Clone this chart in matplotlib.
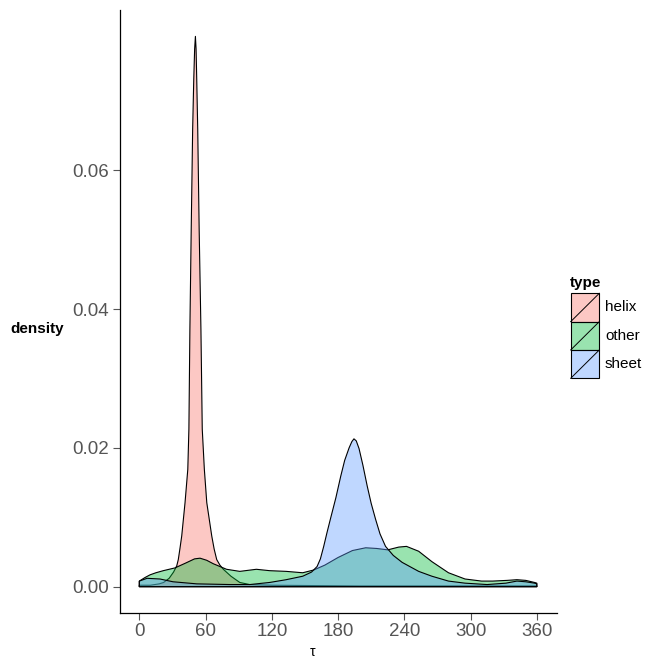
import matplotlib
matplotlib.use("Agg")
import matplotlib.pyplot as plt
from matplotlib.patches import Rectangle
from matplotlib.lines import Line2D
from matplotlib.colors import to_rgba

plt.rcParams['font.family'] = ['Liberation Sans', 'DejaVu Sans']

types = ["helix", "other", "sheet"]
colors = ["#F8766D", "#00BA38", "#619CFF"]

helix_x = [0, 10, 18, 22, 27, 31, 33.9, 35.3, 36.8, 38.4, 41.4, 43.9, 44.9, 45.8, 47.0, 48.3, 49.3,
           50.1, 50.8, 51.4, 52.0, 52.9, 54.2, 55.8, 57.0, 58.9, 61.1, 65.6, 67.8, 70.1, 73, 76.1,
           83, 91, 100, 120, 200, 360]
helix_y = [0.0002, 0.0002, 0.0004, 0.0006, 0.0012, 0.0021, 0.0030, 0.0039, 0.0055, 0.0073, 0.0121,
           0.0169, 0.0227, 0.0371, 0.0515, 0.0659, 0.0731, 0.0775, 0.0793, 0.0775, 0.0731, 0.0659,
           0.0515, 0.0371, 0.0227, 0.0169, 0.0121, 0.0073, 0.0054, 0.0039, 0.0031, 0.0025, 0.0015,
           0.0006, 0.0003, 0.0002, 0.0001, 0.0001]

other_x = [0, 5, 9.7, 15, 21.7, 32.3, 42, 50, 55, 61, 67, 73, 79, 91, 106, 118, 133, 148, 158, 168,
           180, 193, 205, 215, 225, 235, 242, 253, 265, 280, 295, 310, 320, 333, 342, 350, 358, 360]
other_y = [0.0008, 0.0013, 0.0017, 0.0020, 0.0023, 0.0027, 0.0034, 0.0040, 0.0041, 0.0038, 0.0033,
           0.0029, 0.0025, 0.0022, 0.0025, 0.0023, 0.0022, 0.0020, 0.0024, 0.0031, 0.0042, 0.0052,
           0.0056, 0.0055, 0.0053, 0.0057, 0.0058, 0.0051, 0.0036, 0.0020, 0.0011, 0.0008, 0.0008,
           0.0009, 0.0010, 0.0009, 0.0006, 0.0005]

sheet_x = [0, 7, 18.7, 30.5, 52, 82, 100, 118, 133, 148, 156, 161, 164, 167, 170, 173, 178, 182.4,
           186, 190, 192.5, 194.4, 196.5, 199, 202.5, 206.4, 210, 214, 218, 223, 230, 238, 253, 265,
           280, 295, 315, 332, 342, 350, 358, 360]
sheet_y = [0.0008, 0.0012, 0.0011, 0.0007, 0.0004, 0.0003, 0.0003, 0.0006, 0.0010, 0.0015, 0.0021,
           0.0029, 0.0040, 0.0058, 0.0078, 0.0097, 0.0128, 0.0159, 0.0182, 0.0200, 0.0209, 0.0213,
           0.0210, 0.0199, 0.0175, 0.0145, 0.0120, 0.0097, 0.0076, 0.0058, 0.0045, 0.0035, 0.0022,
           0.0015, 0.0008, 0.0005, 0.0003, 0.0005, 0.0008, 0.0007, 0.0005, 0.0004]

series = [(helix_x, helix_y), (other_x, other_y), (sheet_x, sheet_y)]

x_ticks = [0, 60, 120, 180, 240, 300, 360]
y_ticks = [0.00, 0.02, 0.04, 0.06]
y_tick_labels = ["0.00", "0.02", "0.04", "0.06"]

W, H = 654, 666
fig = plt.figure(figsize=(W / 100, H / 100), dpi=100)
ax = fig.add_axes([120 / W, 1 - 613 / H, (557 - 120) / W, (613 - 10) / H])

for (xs, ys), c in zip(series, colors):
    px = [xs[0]] + list(xs) + [xs[-1]]
    py = [0] + list(ys) + [0]
    ax.fill(px, py, facecolor=to_rgba(c, 0.4), edgecolor="black", linewidth=0.8,
            joinstyle="round", zorder=2)

ax.set_xlim(-17.5, 378.3)
ax.set_ylim(-0.0038, 0.0831)
ax.set_xticks(x_ticks)
ax.set_xticklabels([str(v) for v in x_ticks])
ax.set_yticks(y_ticks)
ax.set_yticklabels(y_tick_labels)
for s in ["top", "right"]:
    ax.spines[s].set_visible(False)
for s in ["left", "bottom"]:
    ax.spines[s].set_linewidth(0.9)
    ax.spines[s].set_color("black")
ax.tick_params(axis="both", colors="#555555", labelsize=13.5, length=5, width=0.8)
ax.tick_params(axis="x", pad=2)
ax.tick_params(axis="y", pad=3)

fig.text(313 / W, 1 - 652 / H, "τ", ha="center", va="center", fontsize=10, color="black")
fig.text(10 / W, 1 - 329 / H, "density", ha="left", va="center", fontsize=11,
         fontweight="bold", color="black")

# legend
lax = fig.add_axes([570.7 / W, 1 - 378.3 / H, (599.3 - 570.7) / W, (378.3 - 293.3) / H])
lax.set_xlim(0, 1)
lax.set_ylim(0, 3)
lax.axis("off")
for i, (t, c) in enumerate(zip(types, colors)):
    y0 = 2 - i
    lax.add_patch(Rectangle((0, y0), 1, 1, facecolor=to_rgba(c, 0.4), edgecolor="black",
                            linewidth=0.8, clip_on=False))
    lax.add_line(Line2D([0, 1], [y0, y0 + 1], color="black", linewidth=0.7, clip_on=False))
    fig.text(605 / W, 1 - (293.3 + 28.33 * (i + 0.5)) / H, t, ha="left", va="center",
             fontsize=11, color="black")
fig.text(570 / W, 1 - 283 / H, "type", ha="left", va="center", fontsize=11,
         fontweight="bold", color="black")

fig.savefig("out.png", dpi=100)
